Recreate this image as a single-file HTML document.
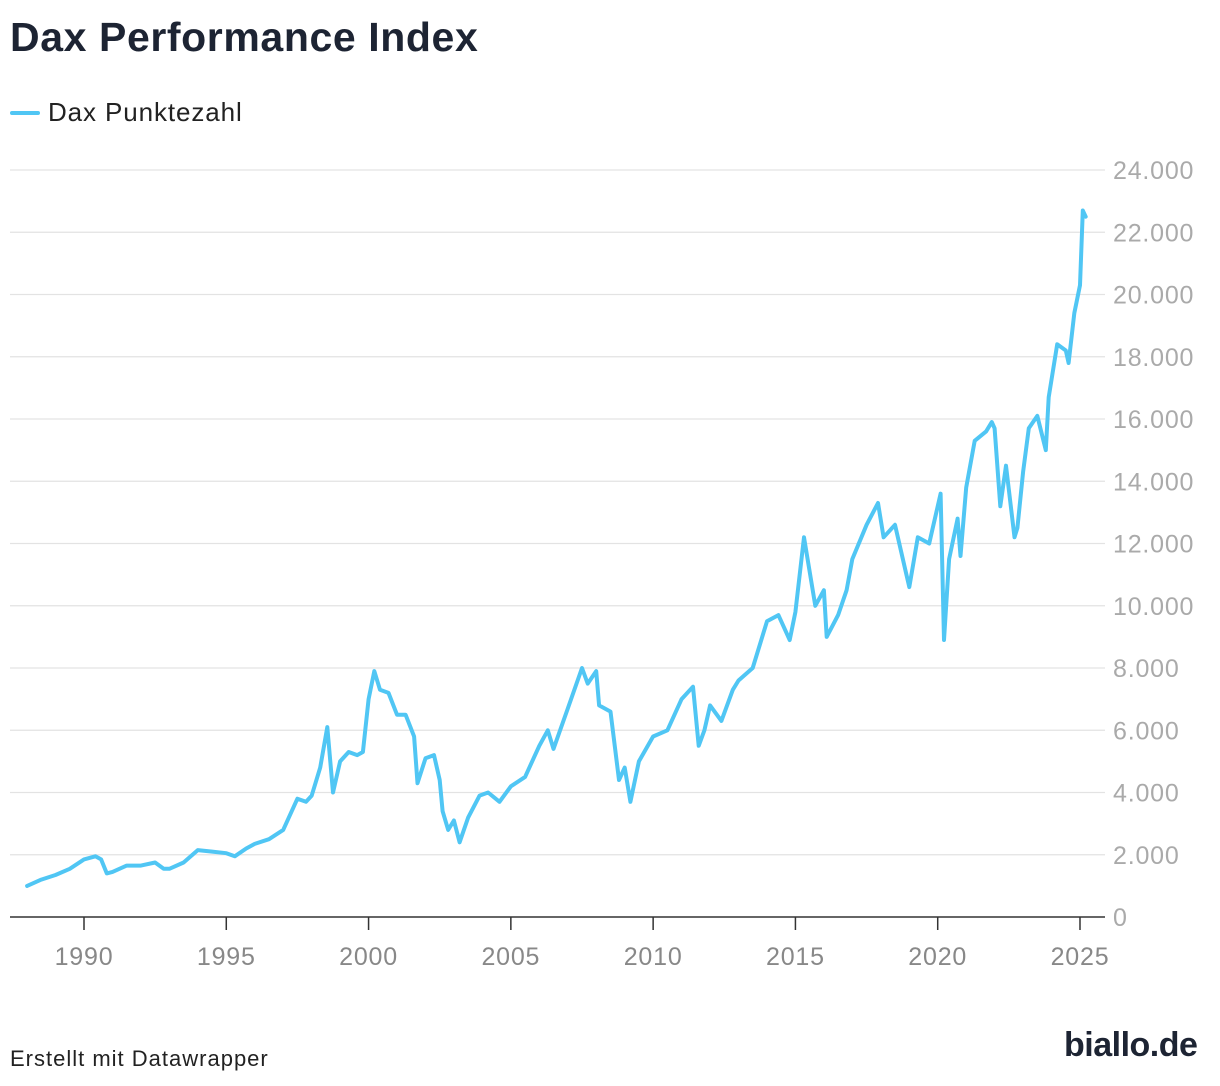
<!DOCTYPE html>
<html><head><meta charset="utf-8"><style>
body{margin:0;background:#fff;width:1220px;height:1086px;overflow:hidden;font-family:"Liberation Sans",sans-serif;}
#title{position:absolute;left:10px;top:14px;font-size:41px;font-weight:bold;color:#1d2433;letter-spacing:0.6px}
#legend{position:absolute;left:10px;top:97px;font-size:26px;color:#222;display:flex;align-items:center;letter-spacing:0.9px}
#legend span.sw{display:inline-block;width:30px;height:4px;background:#50c6f4;margin-right:8px;border-radius:2px}
#foot{position:absolute;left:10px;top:1046px;font-size:22px;color:#222;letter-spacing:1px}
#logo{position:absolute;left:1064px;top:1026px;font-size:34px;font-weight:bold;color:#1d2433;letter-spacing:-0.5px}
svg{position:absolute;left:0;top:0}
</style></head><body>
<div id="title">Dax Performance Index</div>
<div id="legend"><span class="sw"></span>Dax Punktezahl</div>
<div id="foot">Erstellt mit Datawrapper</div>
<div id="logo">biallo.de</div>
<svg id="chart" width="1220" height="1086"></svg>
<script>
const years=[1988.0,1988.5,1989.0,1989.5,1990.0,1990.4,1990.6,1990.8,1991.0,1991.5,1992.0,1992.5,1992.8,1993.0,1993.5,1994.0,1994.5,1995.0,1995.3,1995.7,1996.0,1996.5,1997.0,1997.5,1997.8,1998.0,1998.3,1998.55,1998.75,1999.0,1999.3,1999.6,1999.8,2000.0,2000.2,2000.4,2000.7,2001.0,2001.3,2001.6,2001.72,2002.0,2002.3,2002.5,2002.6,2002.8,2003.0,2003.2,2003.5,2003.9,2004.2,2004.6,2005.0,2005.5,2006.0,2006.3,2006.5,2007.0,2007.5,2007.7,2008.0,2008.1,2008.5,2008.8,2009.0,2009.2,2009.5,2010.0,2010.5,2011.0,2011.4,2011.6,2011.8,2012.0,2012.4,2012.8,2013.0,2013.5,2014.0,2014.4,2014.8,2015.0,2015.3,2015.7,2016.0,2016.1,2016.5,2016.8,2017.0,2017.5,2017.9,2018.1,2018.5,2018.9,2019.0,2019.3,2019.7,2020.1,2020.22,2020.4,2020.7,2020.8,2021.0,2021.3,2021.7,2021.9,2022.0,2022.2,2022.4,2022.7,2022.8,2023.0,2023.2,2023.5,2023.8,2023.9,2024.2,2024.5,2024.6,2024.8,2025.0,2025.1,2025.2];
const values=[1.0,1.2,1.35,1.55,1.85,1.95,1.85,1.4,1.45,1.65,1.65,1.75,1.55,1.55,1.75,2.15,2.1,2.05,1.95,2.2,2.35,2.5,2.8,3.8,3.7,3.9,4.8,6.1,4.0,5.0,5.3,5.2,5.3,7.0,7.9,7.3,7.2,6.5,6.5,5.8,4.3,5.1,5.2,4.4,3.4,2.8,3.1,2.4,3.2,3.9,4.0,3.7,4.2,4.5,5.5,6.0,5.4,6.7,8.0,7.5,7.9,6.8,6.6,4.4,4.8,3.7,5.0,5.8,6.0,7.0,7.4,5.5,6.0,6.8,6.3,7.3,7.6,8.0,9.5,9.7,8.9,9.8,12.2,10.0,10.5,9.0,9.7,10.5,11.5,12.6,13.3,12.2,12.6,11.0,10.6,12.2,12.0,13.6,8.9,11.5,12.8,11.6,13.8,15.3,15.6,15.9,15.7,13.2,14.5,12.2,12.5,14.3,15.7,16.1,15.0,16.7,18.4,18.2,17.8,19.4,20.3,22.7,22.5];
const yTicks=[0,2,4,6,8,10,12,14,16,18,20,22,24];
const yTickLabels=["0","2.000","4.000","6.000","8.000","10.000","12.000","14.000","16.000","18.000","20.000","22.000","24.000"];
const xTicks=[1990,1995,2000,2005,2010,2015,2020,2025];
const NS="http://www.w3.org/2000/svg";
const svg=document.getElementById('chart');
const X=y=>84+(y-1990)*28.457;
const Y=v=>917-v*31.125;
function mk(t,a){const e=document.createElementNS(NS,t);for(const k in a)e.setAttribute(k,a[k]);svg.appendChild(e);return e;}
yTicks.forEach((t,i)=>{
  const l=mk('line',{x1:10,x2:1105,y1:Y(t),y2:Y(t),stroke:t===0?'#333':'#e3e3e3','stroke-width':t===0?1.5:1.3});
  
  
  const tx=mk('text',{x:1113,y:Y(t)+9,'font-size':25,fill:'#aaa','font-family':'Liberation Sans, sans-serif','letter-spacing':'0.8'});
  tx.textContent=yTickLabels[i];
  
  
});
xTicks.forEach(t=>{
  const l=mk('line',{x1:X(t),x2:X(t),y1:917,y2:930,stroke:'#333','stroke-width':1.5});
  
  
  const tx=mk('text',{x:X(t),y:965,'font-size':25,fill:'#888','text-anchor':'middle','font-family':'Liberation Sans, sans-serif','letter-spacing':'0.8'});
  tx.textContent=t;
  
  
});
const d=years.map((y,i)=>(i?'L':'M')+X(y).toFixed(1)+','+Y(values[i]).toFixed(1)).join('');
const p=mk('path',{d:d,fill:'none',stroke:'#50c6f4','stroke-width':4,'stroke-linejoin':'round','stroke-linecap':'round'});


</script>
</body></html>
